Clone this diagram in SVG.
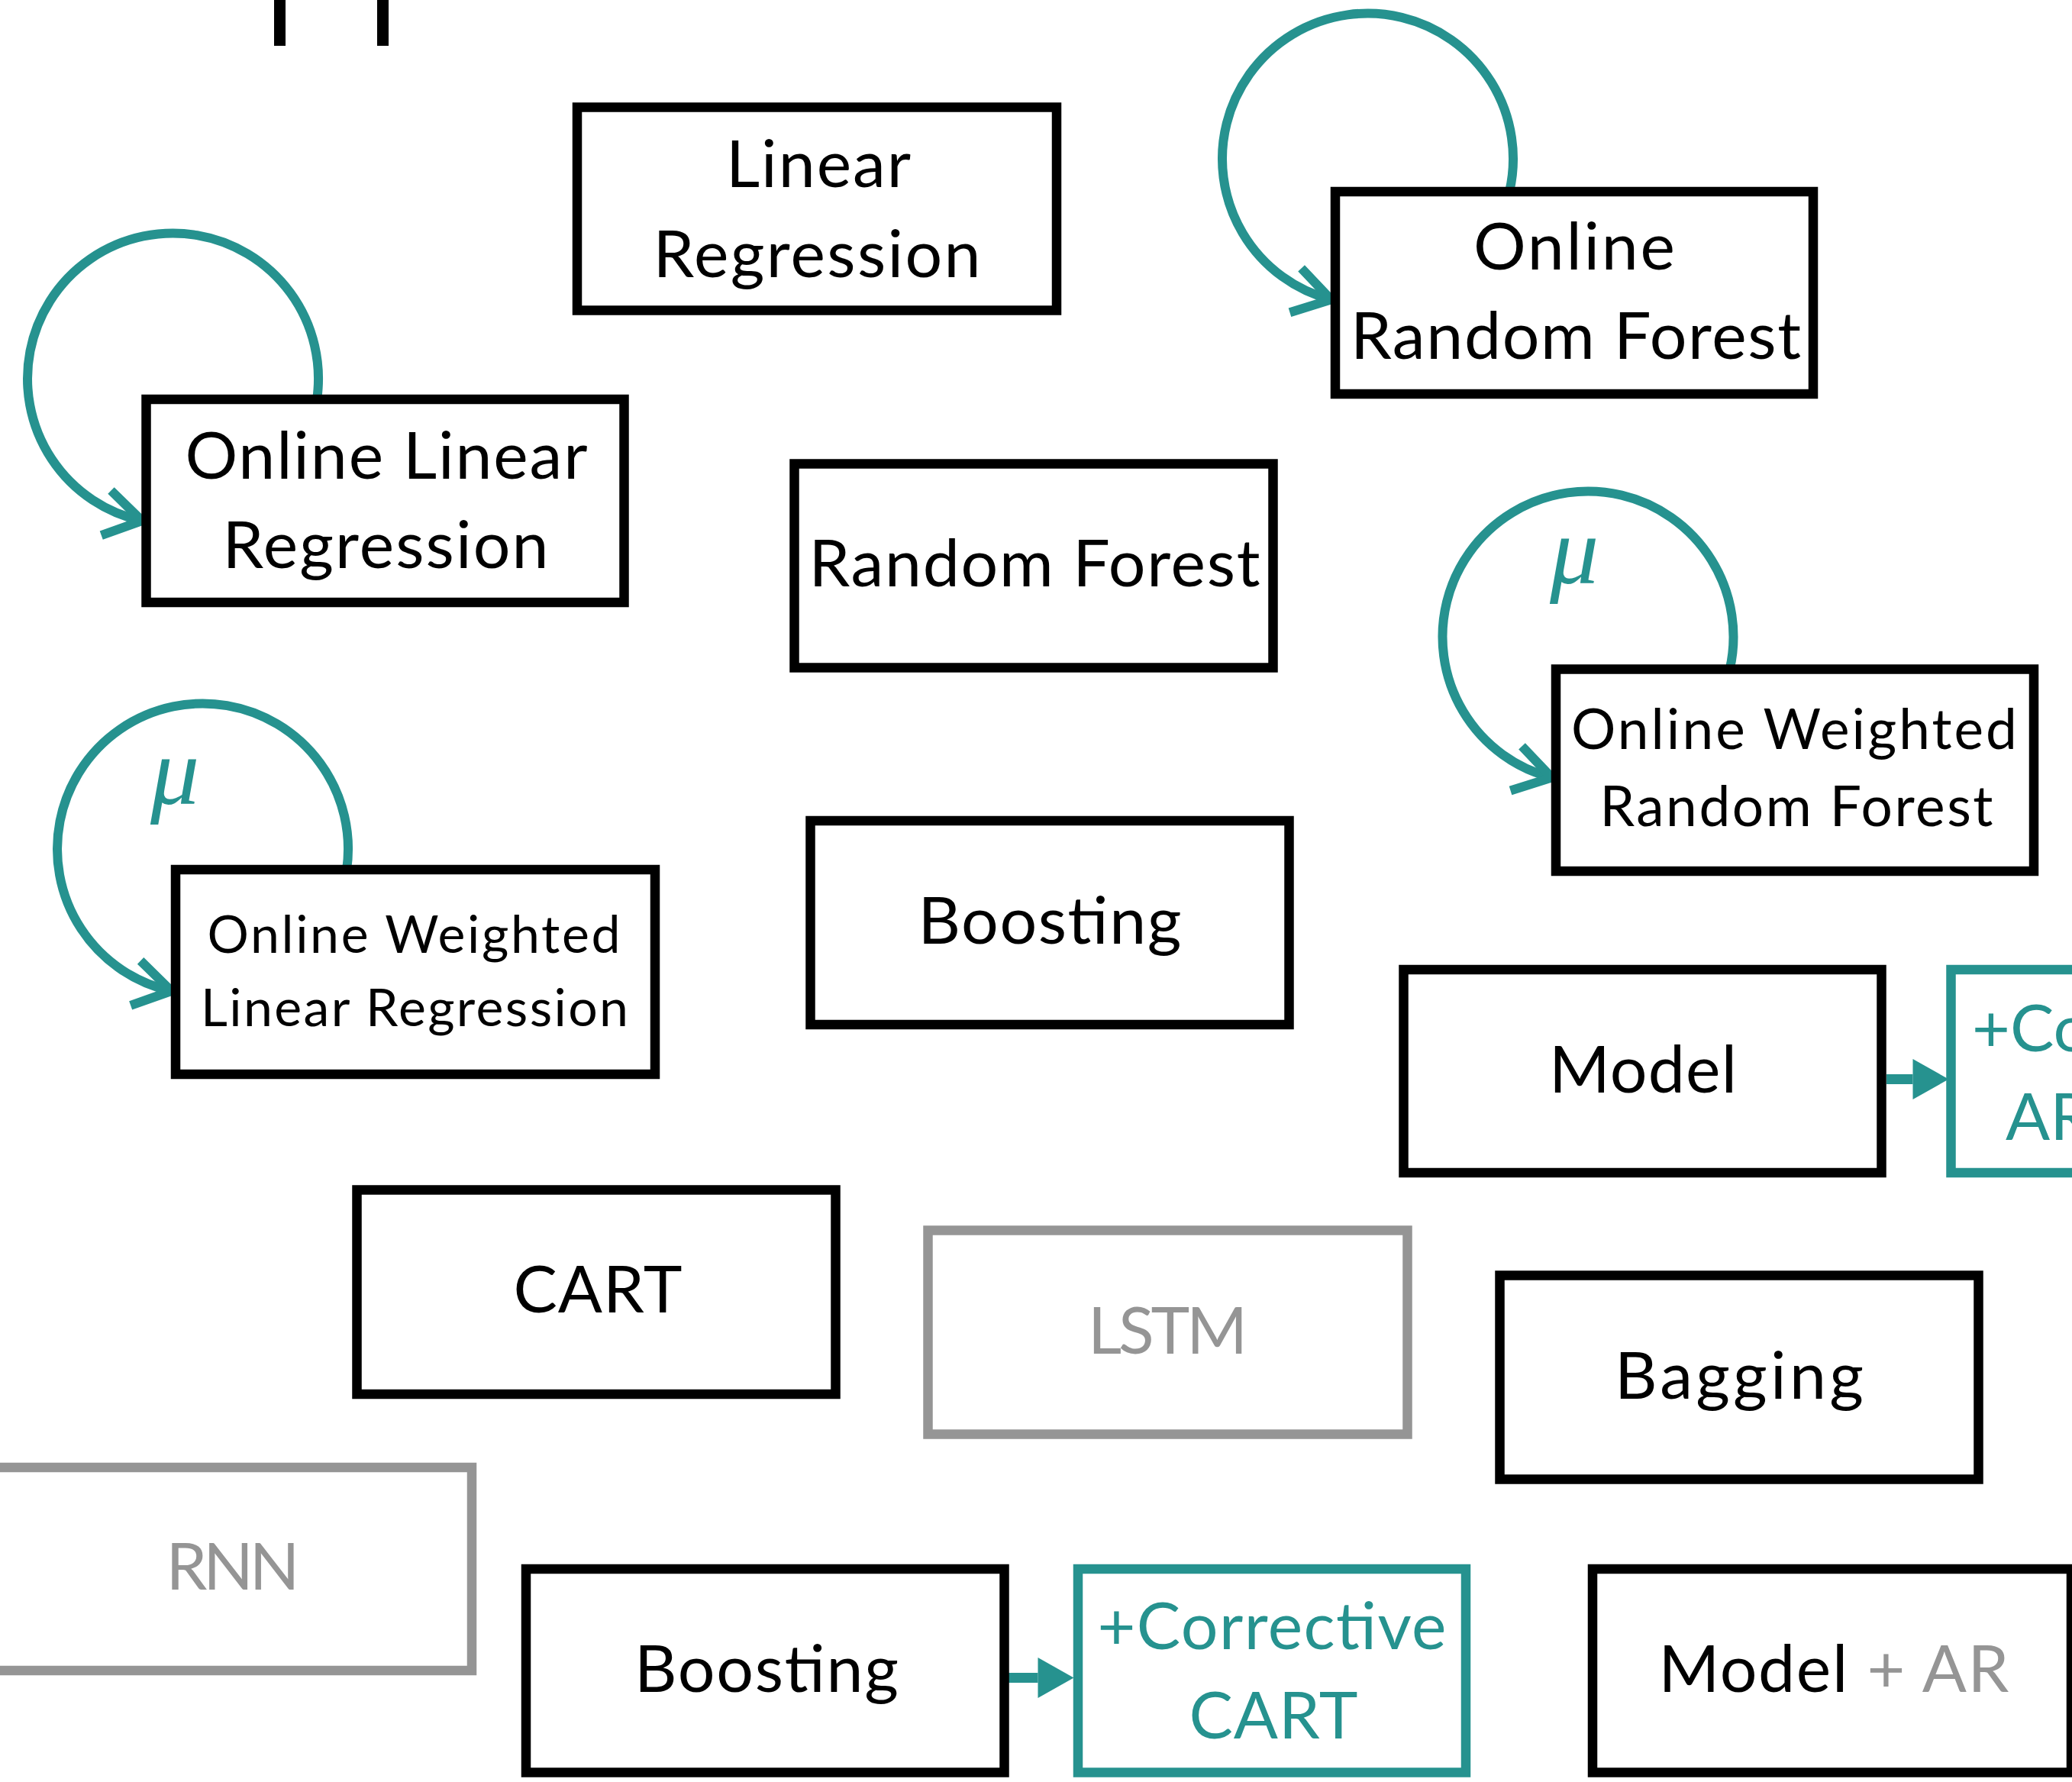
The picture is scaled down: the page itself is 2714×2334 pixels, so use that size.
<svg xmlns="http://www.w3.org/2000/svg" width="2714" height="2334" viewBox="0 0 2714 2334">
  <style>
    .box { fill: #ffffff; stroke: #000000; stroke-width: 12.5; }
    .gbox { fill: #ffffff; stroke: #959595; stroke-width: 12.5; }
    .tbox { fill: #ffffff; stroke: #26928f; stroke-width: 12.5; }
    .lbl { font-family: Lato, "Noto Sans", "Liberation Sans", sans-serif; font-size: 86px; fill: #000000; text-anchor: middle; }
    .st { text-anchor: start; }
    .sm { font-size: 73px; }
    .xs { font-size: 68px; }
    .gray { fill: #959595; }
    .teal { fill: #26928f; }
    .loop { fill: none; stroke: #26928f; stroke-width: 12; }
    .shaft { stroke: #26928f; stroke-width: 13; }
    .mu { font-family: "Liberation Serif", "DejaVu Serif", serif; font-style: italic; font-size: 128px; fill: #26928f; text-anchor: middle; }
  </style>
  <defs>
    <marker id="chev" markerUnits="userSpaceOnUse" viewBox="-60 -40 70 80" refX="0" refY="0" markerWidth="70" markerHeight="80" orient="auto" overflow="visible">
      <path d="M-48,-30 L0,0 L-48,30" fill="none" stroke="#26928f" stroke-width="12" stroke-linejoin="miter"/>
    </marker>
    <marker id="tri" markerUnits="userSpaceOnUse" viewBox="0 -30 50 60" refX="0" refY="0" markerWidth="50" markerHeight="60" orient="auto" overflow="visible">
      <path d="M0,-26.5 L47,0 L0,26.5 Z" fill="#26928f"/>
    </marker>
  </defs>

  <g id="top-marks">
    <rect x="359" y="0" width="15" height="60" fill="#000"/>
    <rect x="494" y="0" width="15" height="60" fill="#000"/>
  </g>

  <g id="connectors">
    <path class="loop" d="M415.1,523 A190.5,190.5 0 1 0 186,682.1" marker-end="url(#chev)"/>
    <path class="loop" d="M1977.1,251 A190.5,190.5 0 1 0 1743.5,392.4" marker-end="url(#chev)"/>
    <path class="loop" d="M2265.7,876.5 A190.5,190.5 0 1 0 2032.5,1018.5" marker-end="url(#chev)"/>
    <path class="loop" d="M454.1,1139 A190.5,190.5 0 1 0 224.5,1298" marker-end="url(#chev)"/>
    <text class="mu" x="2062" y="764">μ</text>
    <text class="mu" x="229" y="1053">μ</text>
    <line class="shaft" x1="2471" y1="1413.5" x2="2505.5" y2="1413.5" marker-end="url(#tri)"/>
    <line class="shaft" x1="1321" y1="2197.5" x2="1359.5" y2="2197.5" marker-end="url(#tri)"/>
  </g>

  <g id="linear-regression">
    <rect class="box" x="756" y="140.5" width="628" height="266"/>
    <text class="lbl" x="1072" y="245" textLength="242">Linear</text>
    <text class="lbl" x="1070" y="363" textLength="429">Regression</text>
  </g>
  <g id="online-random-forest">
    <rect class="box" x="1749" y="251" width="626" height="265"/>
    <text class="lbl" x="2062" y="353" textLength="264">Online</text>
    <text class="lbl" x="2064" y="470" textLength="590">Random Forest</text>
  </g>
  <g id="online-linear-regression">
    <rect class="box" x="191.5" y="523" width="626" height="266"/>
    <text class="lbl" x="506" y="627" textLength="527">Online Linear</text>
    <text class="lbl" x="505" y="744" textLength="427">Regression</text>
  </g>
  <g id="random-forest">
    <rect class="box" x="1040.5" y="607.5" width="627" height="267"/>
    <text class="lbl" x="1355" y="768" textLength="591">Random Forest</text>
  </g>
  <g id="online-weighted-random-forest">
    <rect class="box" x="2038" y="876.5" width="626" height="264.5"/>
    <text class="lbl sm" x="2350" y="981" textLength="584">Online Weighted</text>
    <text class="lbl sm" x="2353" y="1082" textLength="515">Random Forest</text>
  </g>
  <g id="online-weighted-linear-regression">
    <rect class="box" x="230" y="1139" width="628" height="268"/>
    <text class="lbl xs" x="542" y="1248" textLength="541">Online Weighted</text>
    <text class="lbl xs" x="543" y="1344" textLength="560">Linear Regression</text>
  </g>
  <g id="boosting-top">
    <rect class="box" x="1061.5" y="1075" width="627" height="267"/>
    <text class="lbl" x="1375" y="1236" textLength="345">Boosting</text>
  </g>
  <g id="model">
    <rect class="box" x="1838.5" y="1270" width="626" height="266"/>
    <text class="lbl" x="2152" y="1431" textLength="246">Model</text>
  </g>
  <g id="corrective-ar">
    <rect class="tbox" x="2555.5" y="1270" width="509" height="266"/>
    <text class="lbl teal st" x="2583" y="1377">+Corrective</text>
    <text class="lbl teal st" x="2627" y="1493">AR</text>
  </g>
  <g id="cart">
    <rect class="box" x="467.5" y="1558.5" width="627" height="267.5"/>
    <text class="lbl" x="783" y="1719" textLength="221">CART</text>
  </g>
  <g id="lstm">
    <rect class="gbox" x="1215.5" y="1611.5" width="628" height="267"/>
    <text class="lbl gray" x="1529.5" y="1773" textLength="209">LSTM</text>
  </g>
  <g id="bagging">
    <rect class="box" x="1964.5" y="1670.5" width="627" height="267"/>
    <text class="lbl" x="2278" y="1832" textLength="326">Bagging</text>
  </g>
  <g id="rnn">
    <rect class="gbox" x="-9" y="1922" width="627" height="266"/>
    <text class="lbl gray" x="305" y="2082" textLength="175">RNN</text>
  </g>
  <g id="boosting-bottom">
    <rect class="box" x="689" y="2055" width="626.5" height="266.5"/>
    <text class="lbl" x="1004" y="2216" textLength="346">Boosting</text>
  </g>
  <g id="corrective-cart">
    <rect class="tbox" x="1412" y="2055" width="508" height="266.5"/>
    <text class="lbl teal" x="1666" y="2160" textLength="457">+Corrective</text>
    <text class="lbl teal" x="1668" y="2277" textLength="221">CART</text>
  </g>
  <g id="model-ar">
    <rect class="box" x="2086" y="2055" width="627" height="266.5"/>
    <text class="lbl" x="2402" y="2216" textLength="459">Model<tspan class="gray"> + AR</tspan></text>
  </g>
</svg>
